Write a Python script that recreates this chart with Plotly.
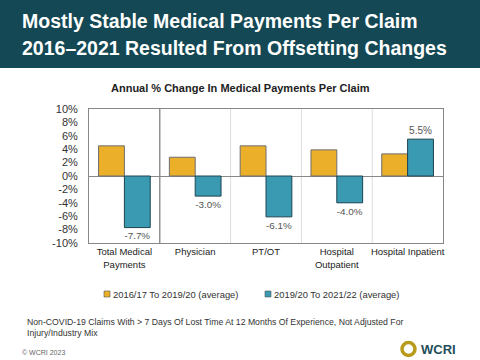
import plotly.graph_objects as go

categories = ["Total Medical<br>Payments", "Physician", "PT/OT", "Hospital<br>Outpatient", "Hospital Inpatient"]
series1_name = "2016/17 To 2019/20 (average)"
series2_name = "2019/20 To 2021/22 (average)"
series1 = [4.5, 2.8, 4.5, 3.9, 3.3]
series2 = [-7.7, -3.0, -6.1, -4.0, 5.5]
y_ticks = [-10, -8, -6, -4, -2, 0, 2, 4, 6, 8, 10]

W, H = 480, 360
FONT = "Liberation Sans, Arial, sans-serif"
C1, C2 = "#EBAF2A", "#3A9AB2"


def py(p):
    return 1 - p / H


fig = go.Figure()
fig.add_trace(go.Bar(
    x=categories, y=series1, name=series1_name, showlegend=False,
    marker=dict(color=C1, line=dict(color="#6e6e6e", width=1)),
))
fig.add_trace(go.Bar(
    x=categories, y=series2, name=series2_name, showlegend=False,
    marker=dict(color=C2, line=dict(color="#1c4450", width=1)),
    text=[f"{v:.1f}%" for v in series2], textposition="outside",
    textfont=dict(size=10, color="#555555", family=FONT),
    cliponaxis=False,
))

shapes = [
    dict(type="rect", xref="paper", yref="paper", x0=0, x1=1, y0=py(68), y1=1,
         fillcolor="#144854", line=dict(width=0), layer="below"),
]
for i, xv in enumerate([0.5, 1.5, 2.5, 3.5]):
    shapes.append(dict(type="line", xref="x", yref="paper", x0=xv, x1=xv,
                       y0=py(243), y1=py(109),
                       line=dict(color="#777777" if i == 0 else "#dddddd", width=1.2 if i == 0 else 1),
                       layer="below"))
for xs, col in [(104, C1), (265, C2)]:
    shapes.append(dict(type="rect", xref="paper", yref="paper",
                       x0=xs / W, x1=(xs + 6) / W, y0=py(297), y1=py(291),
                       fillcolor=col, line=dict(color="#555555", width=0.6)))
shapes.append(dict(type="circle", xref="paper", yref="paper",
                   x0=402 / W, x1=415 / W, y0=py(355.5), y1=py(342.5),
                   line=dict(color="#b89a1c", width=3.5)))

annotations = [
    dict(text="Mostly Stable Medical Payments Per Claim",
         xref="paper", yref="paper", x=20 / W, y=py(21), xanchor="left", yanchor="middle",
         showarrow=False, font=dict(size=19.5, color="white", family=FONT, weight="bold")),
    dict(text="2016\u20132021 Resulted From Offsetting Changes",
         xref="paper", yref="paper", x=20 / W, y=py(48), xanchor="left", yanchor="middle",
         showarrow=False, font=dict(size=19.5, color="white", family=FONT, weight="bold")),
    dict(text="Annual % Change In Medical Payments Per Claim",
         xref="paper", yref="paper", x=0.5, y=py(88), xanchor="center", yanchor="middle",
         showarrow=False, font=dict(size=11, color="#222222", family=FONT, weight="bold")),
    dict(text=series1_name, xref="paper", yref="paper", x=111 / W, y=py(294),
         xanchor="left", yanchor="middle", showarrow=False,
         font=dict(size=9.4, color="#333333", family=FONT)),
    dict(text=series2_name, xref="paper", yref="paper", x=272 / W, y=py(294),
         xanchor="left", yanchor="middle", showarrow=False,
         font=dict(size=9.4, color="#333333", family=FONT)),
    dict(text="Non-COVID-19 Claims With > 7 Days Of Lost Time At 12 Months Of Experience, Not Adjusted For<br>Injury/Industry Mix",
         xref="paper", yref="paper", x=25 / W, y=py(327), xanchor="left", yanchor="middle",
         showarrow=False, align="left", font=dict(size=8.7, color="#333333", family=FONT)),
    dict(text="\u00a9 WCRI 2023",
         xref="paper", yref="paper", x=20 / W, y=py(352), xanchor="left", yanchor="middle",
         showarrow=False, font=dict(size=7, color="#666666", family=FONT)),
    dict(text="WCRI",
         xref="paper", yref="paper", x=419 / W, y=py(349), xanchor="left", yanchor="middle",
         showarrow=False, font=dict(size=13, color="#1f4e5a", family=FONT, weight="bold")),
]

fig.update_layout(
    width=W, height=H,
    margin=dict(l=0, r=0, t=0, b=0, autoexpand=False),
    paper_bgcolor="white", plot_bgcolor="white",
    barmode="group", bargap=0.27, bargroupgap=0,
    font=dict(family=FONT, color="#333333"),
    showlegend=False,
    shapes=shapes, annotations=annotations,
    xaxis=dict(domain=[89 / W, 443 / W], showline=True, linecolor="#888888", mirror=True,
               tickfont=dict(size=9.5, color="#222222", family=FONT), ticks="",
               automargin=False, fixedrange=True),
    yaxis=dict(domain=[py(243), py(109)], range=[-10, 10], tickvals=y_ticks,
               ticktext=[f"{v}%" for v in y_ticks], showgrid=False,
               showline=True, linecolor="#888888", mirror=True,
               zeroline=True, zerolinecolor="#888888", zerolinewidth=1,
               automargin=False, ticklabelstandoff=8,
               tickfont=dict(size=11, color="#333333", family=FONT)),
)

fig.write_html("out.html", config={"displayModeBar": False},
               post_script="document.body.style.margin='0';document.body.style.overflow='hidden';")
